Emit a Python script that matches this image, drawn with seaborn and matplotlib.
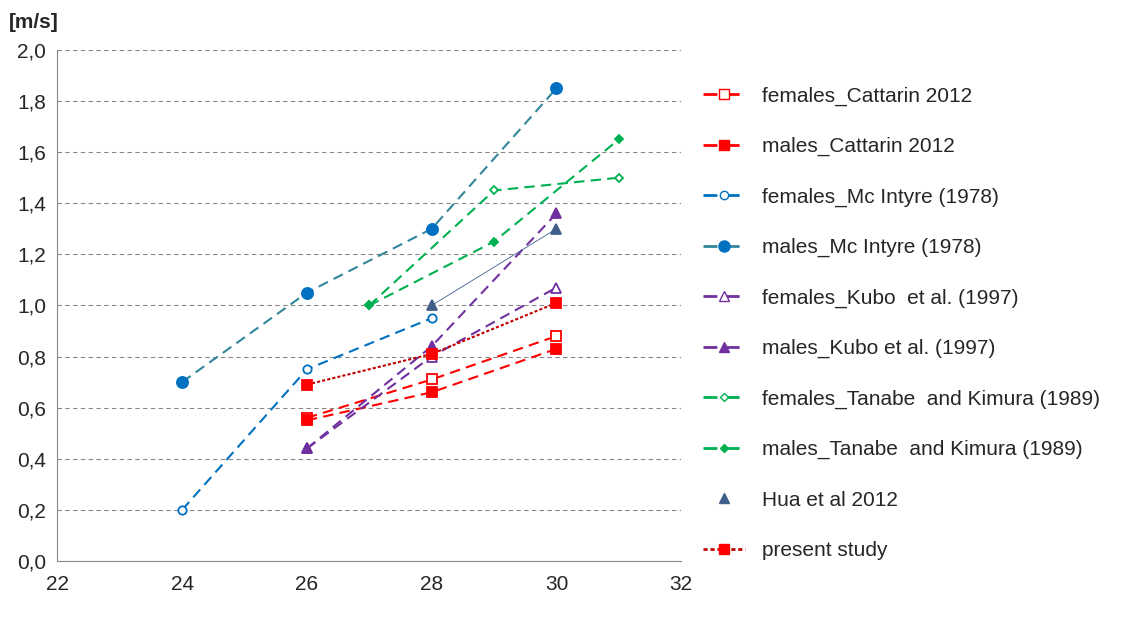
import matplotlib
matplotlib.use("Agg")
import matplotlib.pyplot as plt
import seaborn as sns
import pandas as pd
from matplotlib.lines import Line2D

sns.set_style("white")
plt.rcParams['font.family'] = ['Liberation Sans', 'DejaVu Sans']

# data
f_catt_x = [26, 28, 30]; f_catt_y = [0.56, 0.71, 0.88]
m_catt_x = [26, 28, 30]; m_catt_y = [0.55, 0.66, 0.83]
f_mci_x = [24, 26, 28]; f_mci_y = [0.20, 0.75, 0.95]
m_mci_x = [24, 26, 28, 30]; m_mci_y = [0.70, 1.05, 1.30, 1.85]
f_kubo_x = [26, 28, 30]; f_kubo_y = [0.44, 0.80, 1.07]
m_kubo_x = [26, 28, 30]; m_kubo_y = [0.44, 0.84, 1.36]
f_tan_x = [27, 29, 31]; f_tan_y = [1.00, 1.45, 1.50]
m_tan_x = [27, 29, 31]; m_tan_y = [1.00, 1.25, 1.65]
hua_x = [28, 30]; hua_y = [1.00, 1.30]
pres_x = [26, 28, 30]; pres_y = [0.69, 0.81, 1.01]

red = "#FF0000"; blue = "#0070C0"; teal = "#31859C"
green = "#00B050"; purple = "#7030A0"; navy = "#3F5F8A"

series = [
    ("females_Cattarin 2012", f_catt_x, f_catt_y, red, red, "s", False, (0, (5, 3)), 1.5),
    ("males_Cattarin 2012", m_catt_x, m_catt_y, red, red, "s", True, (0, (5, 3)), 1.5),
    ("females_Mc Intyre (1978)", f_mci_x, f_mci_y, blue, blue, "o", False, (0, (5, 3)), 1.5),
    ("males_Mc Intyre (1978)", m_mci_x, m_mci_y, blue, teal, "o", True, (0, (5, 3)), 1.5),
    ("females_Kubo  et al. (1997)", f_kubo_x, f_kubo_y, purple, purple, "^", False, (0, (5, 3)), 1.5),
    ("males_Kubo et al. (1997)", m_kubo_x, m_kubo_y, purple, purple, "^", True, (0, (5, 3)), 1.5),
    ("females_Tanabe  and Kimura (1989)", f_tan_x, f_tan_y, green, green, "D", False, (0, (5, 3)), 1.5),
    ("males_Tanabe  and Kimura (1989)", m_tan_x, m_tan_y, green, green, "D", True, (0, (5, 3)), 1.5),
    ("Hua et al 2012", hua_x, hua_y, navy, navy, "^", True, "-", 0.6),
    ("present study", pres_x, pres_y, red, "#C00000", "s", True, (0, (1.5, 1)), 1.5),
]

fig = plt.figure(figsize=(11.26, 6.17), dpi=100)
ax = fig.add_axes([0.051, 0.091, 0.554, 0.828])

handles = []
for label, xs, ys, mc, lc, mk, filled, ls, lw in series:
    df = pd.DataFrame({"x": xs, "y": ys})
    sns.lineplot(data=df, x="x", y="y", ax=ax, color=lc, linestyle=ls, linewidth=lw, sort=False)
    ms = {"o": 8, "s": 7, "^": 7, "D": 4.5}[mk]
    if mk == "o" and not filled:
        ms = 6
    ax.plot(xs, ys, linestyle="none", marker=mk, markersize=ms,
            markerfacecolor=mc if filled else "white", markeredgecolor=mc, markeredgewidth=1.3)
    handles.append(Line2D([0], [0], color=lc, linestyle=ls if ls != "-" else "none", linewidth=2,
                          marker=mk, markersize=ms,
                          markerfacecolor=mc if filled else "white", markeredgecolor=mc))

ax.set_xlim(22, 32)
ax.set_ylim(0, 2.0)
ax.set_xticks(range(22, 33, 2))
ax.set_yticks([i / 10 for i in range(0, 21, 2)])
ax.set_yticklabels([f"{i / 10:.1f}".replace(".", ",") for i in range(0, 21, 2)])
ax.tick_params(labelsize=15, length=0)
ax.tick_params(axis="x", pad=10)
ax.tick_params(axis="y", pad=8)
ax.set_xlabel(""); ax.set_ylabel("")
ax.yaxis.grid(True, color="#888888", linestyle=(0, (4, 3)), linewidth=0.8)
for s in ["top", "right"]:
    ax.spines[s].set_visible(False)
for s in ["left", "bottom"]:
    ax.spines[s].set_color("#888888")
fig.text(0.008, 0.955, "[m/s]", fontsize=15, fontweight="bold")

fig.legend(handles, [s[0] for s in series], loc="upper left", bbox_to_anchor=(0.608, 0.89),
           frameon=False, fontsize=15, handlelength=2.0, labelspacing=1.5)

fig.savefig("out.png", dpi=100)
